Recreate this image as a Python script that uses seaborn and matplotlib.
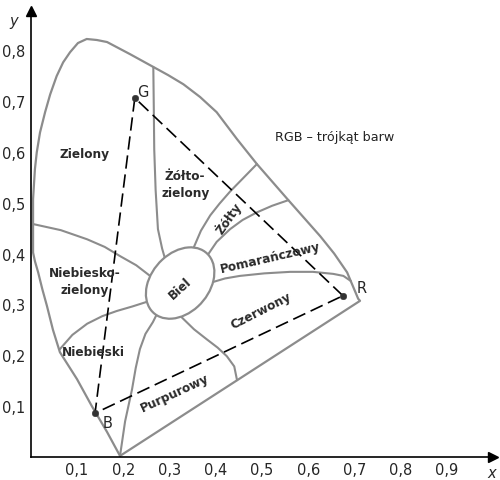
import numpy as np
import pandas as pd
import matplotlib.pyplot as plt
import seaborn as sns
from matplotlib.patches import Ellipse

sns.set_style('white')
plt.rcParams['font.family'] = ['DejaVu Sans']

# spectral locus (horseshoe), closed by the purple line
locus_x = [0.193, 0.165, 0.132, 0.100, 0.063, 0.048, 0.035, 0.025, 0.016, 0.009,
           0.005, 0.005, 0.005, 0.009, 0.013, 0.020, 0.031, 0.042, 0.056, 0.070,
           0.085, 0.102, 0.121, 0.143, 0.165, 0.215, 0.265, 0.297, 0.330, 0.366,
           0.402, 0.446, 0.489, 0.557, 0.592, 0.626, 0.656, 0.684, 0.708, 0.712,
           0.193]
locus_y = [0.002, 0.049, 0.100, 0.153, 0.206, 0.250, 0.297, 0.330, 0.363, 0.385,
           0.402, 0.458, 0.507, 0.566, 0.599, 0.638, 0.678, 0.713, 0.749, 0.776,
           0.796, 0.814, 0.822, 0.820, 0.816, 0.792, 0.767, 0.751, 0.733, 0.708,
           0.678, 0.625, 0.576, 0.505, 0.469, 0.434, 0.400, 0.363, 0.311, 0.307,
           0.002]

# RGB triangle corners
rgb_names = ['R', 'G', 'B']
rgb_x = [0.675, 0.225, 0.139]
rgb_y = [0.317, 0.706, 0.086]

# white point area (Biel)
white_center = (0.323, 0.342)

# borders between colour regions (end inside the white ellipse)
b_green_x = [0.265, 0.266, 0.267, 0.270, 0.275, 0.284, 0.295]
b_green_y = [0.767, 0.690, 0.605, 0.525, 0.448, 0.410, 0.375]
b_yellowgreen_x = [0.489, 0.460, 0.431, 0.408, 0.388, 0.368, 0.351, 0.345]
b_yellowgreen_y = [0.576, 0.549, 0.522, 0.498, 0.475, 0.445, 0.409, 0.390]
b_yellow_x = [0.557, 0.522, 0.489, 0.458, 0.431, 0.402, 0.381, 0.370]
b_yellow_y = [0.505, 0.494, 0.481, 0.466, 0.448, 0.423, 0.395, 0.380]
b_orange_x = [0.692, 0.676, 0.654, 0.610, 0.561, 0.505, 0.452, 0.420, 0.394, 0.380]
b_orange_y = [0.346, 0.356, 0.360, 0.364, 0.364, 0.361, 0.356, 0.351, 0.344, 0.340]
b_red_x = [0.446, 0.440, 0.424, 0.404, 0.381, 0.353, 0.327, 0.320]
b_red_y = [0.151, 0.178, 0.198, 0.215, 0.231, 0.251, 0.274, 0.290]
b_purple_x = [0.193, 0.204, 0.219, 0.227, 0.236, 0.248, 0.264, 0.275]
b_purple_y = [0.002, 0.070, 0.133, 0.175, 0.212, 0.242, 0.265, 0.285]
b_blue_x = [0.063, 0.090, 0.122, 0.155, 0.186, 0.220, 0.251, 0.265]
b_blue_y = [0.212, 0.240, 0.262, 0.277, 0.287, 0.296, 0.305, 0.310]
b_cyan_x = [0.005, 0.065, 0.122, 0.160, 0.193, 0.228, 0.258, 0.270]
b_cyan_y = [0.458, 0.446, 0.428, 0.413, 0.395, 0.377, 0.356, 0.350]

borders = [(b_green_x, b_green_y), (b_yellowgreen_x, b_yellowgreen_y),
           (b_yellow_x, b_yellow_y), (b_orange_x, b_orange_y),
           (b_red_x, b_red_y), (b_purple_x, b_purple_y),
           (b_blue_x, b_blue_y), (b_cyan_x, b_cyan_y)]

# region names
region_names = ['Zielony', 'Żółto-\nzielony', 'Żółty', 'Pomarańczowy', 'Biel',
                'Niebiesko-\nzielony', 'Niebieski', 'Czerwony', 'Purpurowy']
region_x = [0.117, 0.334, 0.427, 0.518, 0.323, 0.117, 0.135, 0.498, 0.312]
region_y = [0.597, 0.537, 0.471, 0.393, 0.333, 0.346, 0.208, 0.289, 0.127]
region_rot = [0, 0, 55, 13, 42, 0, 0, 27, 25]

x_ticks = [0.1, 0.2, 0.3, 0.4, 0.5, 0.6, 0.7, 0.8, 0.9]
x_tick_labels = ['0,1', '0,2', '0,3', '0,4', '0,5', '0,6', '0,7', '0,8', '0,9']
y_ticks = [0.1, 0.2, 0.3, 0.4, 0.5, 0.6, 0.7, 0.8]
y_tick_labels = ['0,1', '0,2', '0,3', '0,4', '0,5', '0,6', '0,7', '0,8']

gray = '#8c8c8c'

fig = plt.figure(figsize=(5, 4.81), dpi=100)
ax = fig.add_axes([0.0615, 0.048, 0.925, 0.927])

sns.lineplot(x=locus_x, y=locus_y, sort=False, estimator=None, color=gray, lw=1.6, ax=ax)
for bx, by in borders:
    sns.lineplot(x=bx, y=by, sort=False, estimator=None, color=gray, lw=1.5, ax=ax)

ell = Ellipse(white_center, width=0.165, height=0.12, angle=40,
              facecolor='white', edgecolor=gray, lw=1.6, zorder=3)
ax.add_patch(ell)

# dashed RGB triangle
tri_x = rgb_x + [rgb_x[0]]
tri_y = rgb_y + [rgb_y[0]]
sns.lineplot(x=tri_x, y=tri_y, sort=False, estimator=None, color='black', lw=1.2,
             linestyle=(0, (8, 3.5)), ax=ax, zorder=4)
sns.scatterplot(x=rgb_x, y=rgb_y, color='#333333', s=22, edgecolor='#333333', ax=ax, zorder=5)

ax.text(0.243, 0.719, 'G', fontsize=10.5, ha='center', va='center')
ax.text(0.716, 0.334, 'R', fontsize=10.5, ha='center', va='center')
ax.text(0.167, 0.068, 'B', fontsize=10.5, ha='center', va='center')

for name, tx, ty, rot in zip(region_names, region_x, region_y, region_rot):
    ax.text(tx, ty, name, fontsize=8.7, fontweight='bold', color='#2a2a2a',
            ha='center', va='center', rotation=rot, linespacing=1.45, zorder=6)

ax.text(0.528, 0.630, 'RGB – trójkąt barw', fontsize=9.2, ha='left', va='center', color='#222222')

ax.set_xlim(0, 1.0)
ax.set_ylim(0, 0.877)
ax.set_xticks(x_ticks)
ax.set_xticklabels(x_tick_labels)
ax.set_yticks(y_ticks)
ax.set_yticklabels(y_tick_labels)
ax.tick_params(direction='in', length=6, width=1, labelsize=10.5, color='black', pad=4)

sns.despine(ax=ax)
for s in ['left', 'bottom']:
    ax.spines[s].set_color('black')
    ax.spines[s].set_linewidth(1.2)

# axis arrows
ax.plot(1, 0, '>k', ms=7, transform=ax.get_yaxis_transform(), clip_on=False)
ax.plot(0, 1, '^k', ms=7, transform=ax.get_xaxis_transform(), clip_on=False)
ax.text(-0.038, 0.859, 'y', fontsize=10.5, style='italic', ha='center', va='center')
ax.text(0.997, -0.03, 'x', fontsize=10.5, style='italic', ha='center', va='center', clip_on=False)

plt.savefig('out.png', dpi=100)
